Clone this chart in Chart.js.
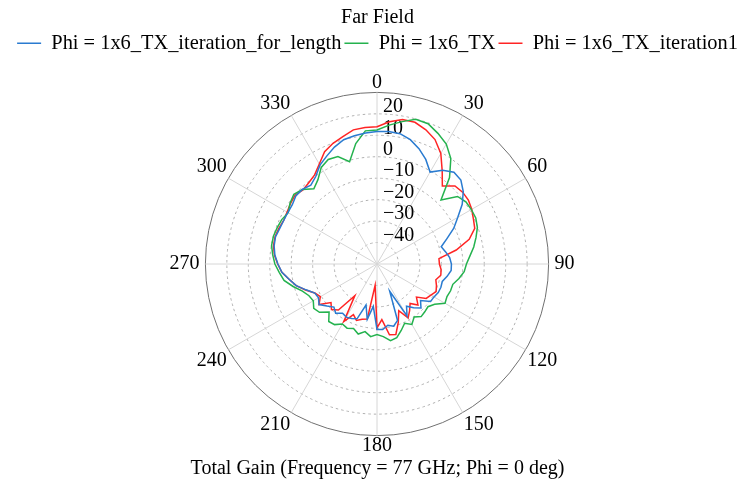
<!DOCTYPE html>
<html>
<head>
<meta charset="utf-8">
<title>Far Field</title>
<script src="https://cdn.jsdelivr.net/npm/chart.js@4.4.1/dist/chart.umd.min.js"></script>
<style>
  html, body { margin: 0; padding: 0; background: #fff; }
  #wrap { width: 755px; height: 488px; position: relative; }
</style>
</head>
<body>
<div id="wrap"><canvas id="farField"></canvas></div>
<script>
// theta (deg), every 5 degrees, clockwise from the top
const ANGLES = [
  0, 5, 10, 15, 20, 25, 30, 35, 40, 45, 50, 55,
  60, 65, 70, 75, 80, 85, 90, 95, 100, 105, 110, 115,
  120, 125, 130, 135, 140, 145, 150, 155, 160, 165, 170, 175,
  180, 185, 190, 195, 200, 205, 210, 215, 220, 225, 230, 235,
  240, 245, 250, 255, 260, 265, 270, 275, 280, 285, 290, 295,
  300, 305, 310, 315, 320, 325, 330, 335, 340, 345, 350, 355
];

// total gain in dB
const GAIN_ITER_LENGTH = [
  11.8, 12.0, 11.7, 10.0, 7.2, 3.8, -0.5, 3.4, 5.8, 5.3, 2.5, -1.5,
  -6.5, -10.5, -15.3, -19.0, -17.5, -16.0, -15.3, -15.3, -16.8, -18.5, -18.3, -18.5,
  -19.3, -19.5, -23.5, -21.0, -23.4, -26.0, -22.0, -36.0, -22.0, -20.0, -21.0, -19.3,
  -19.5, -30.2, -23.8, -30.2, -22.8, -22.0, -21.4, -22.0, -20.0, -21.6, -19.5, -17.0,
  -18.5, -18.0, -14.8, -11.0, -8.5, -5.5, -3.8, -2.2, -1.3, -1.0, -1.7, -2.0,
  -2.0, -1.8, -0.6, -0.8, -2.0, -0.2, 3.2, 5.5, 8.0, 10.0, 10.7, 11.3
];

const GAIN_TX = [
  12.5, 15.0, 17.4, 19.8, 19.6, 17.2, 14.6, 10.0, 2.6, -7.8, -1.0, 0.6,
  0.8, 0.8, -0.2, -2.2, -4.2, -6.5, -8.3, -9.2, -11.2, -13.4, -13.5, -14.0,
  -13.4, -17.2, -19.0, -18.5, -18.0, -19.8, -17.5, -19.5, -17.0, -14.4, -13.7, -16.0,
  -17.1, -16.0, -18.0, -16.2, -18.0, -17.0, -17.7, -15.5, -15.0, -18.4, -15.0, -14.0,
  -15.7, -15.0, -13.0, -9.5, -6.0, -4.3, -2.4, -1.2, -0.1, 0.0, -0.5, -1.0,
  -2.2, -0.5, 0.6, -0.8, -4.2, -2.0, 2.0, 3.8, 3.3, -0.6, 7.0, 12.3
];

const GAIN_ITER1 = [
  14.0, 16.6, 18.4, 18.4, 16.6, 14.0, 9.5, 3.0, -2.6, 1.4, 2.1, 2.0,
  1.0, -0.4, -1.5, -5.5, -12.5, -21.0, -20.9, -20.0, -19.8, -21.6, -20.5, -19.6,
  -21.0, -22.0, -26.0, -23.0, -26.0, -23.5, -21.0, -26.0, -21.0, -16.0, -16.5, -24.0,
  -20.2, -40.0, -24.0, -23.3, -22.0, -24.0, -19.0, -32.0, -22.0, -20.0, -22.0, -17.0,
  -19.5, -18.0, -14.5, -11.0, -8.5, -5.5, -3.7, -2.0, -1.0, -0.8, -1.3, -2.0,
  -1.6, -0.8, -0.1, -1.2, -0.5, 0.7, 3.8, 7.8, 9.9, 11.5, 13.5, 13.9
];

const SERIES_NAMES = [
  'Phi = 1x6_TX_iteration_for_length',
  'Phi = 1x6_TX',
  'Phi = 1x6_TX_iteration1'
];
const SERIES_COLORS = ['#2a7bd0', '#24b24e', '#ff2424'];

const RADIAL_TICKS = [-40, -30, -20, -10, 0, 10, 20];
const R_MIN = -50, R_MAX = 30;

const SERIF = "'Liberation Serif', 'Times New Roman', serif";
Chart.defaults.font.family = SERIF;
Chart.defaults.color = '#000';

// radial value labels sit just right of the 0 deg spoke, above each ring
const tickLabels = {
  id: 'tickLabels',
  beforeDatasetsDraw(chart) {
    const r = chart.scales.r, ctx = chart.ctx;
    ctx.save();
    ctx.font = '20px ' + SERIF;
    ctx.fillStyle = '#000';
    ctx.textAlign = 'left';
    ctx.textBaseline = 'middle';
    RADIAL_TICKS.forEach(v => {
      const d = r.getDistanceFromCenterForValue(v);
      const txt = v < 0 ? '\u2212' + Math.abs(v) : String(v);
      ctx.fillText(txt, r.xCenter + 6, r.yCenter - d - 7);
    });
    ctx.restore();
  }
};

const seriesData = [GAIN_ITER_LENGTH, GAIN_TX, GAIN_ITER1];

new Chart(document.getElementById('farField'), {
  type: 'radar',
  data: {
    labels: ANGLES,
    datasets: seriesData.map((d, i) => ({
      label: SERIES_NAMES[i],
      data: d,
      borderColor: SERIES_COLORS[i],
      backgroundColor: SERIES_COLORS[i],
      borderWidth: 1.5,
      pointRadius: 0, pointHoverRadius: 0, pointHitRadius: 0,
      fill: false, tension: 0
    }))
  },
  plugins: [tickLabels],
  options: {
    responsive: true, maintainAspectRatio: false, animation: false,
    events: [],
    layout: { padding: 0 },
    scales: {
      r: {
        min: R_MIN, max: R_MAX,
        startAngle: 0,
        ticks: { display: false, stepSize: 10 },
        grid: {
          circular: true,
          color: c => c.index === 8 ? '#707070' : '#b0b0b0',
          lineWidth: 1
        },
        border: { dash: c => c.index === 8 ? [] : [2.5, 3] },
        angleLines: {
          color: '#d6d6d6',
          lineWidth: c => (c.index % 6 === 0 ? 1 : 0)
        },
        pointLabels: {
          callback: (lab, i) => (i % 6 === 0 ? String(lab) : ''),
          color: '#000',
          padding: c => c.index === 0 ? -5 : c.index === 36 ? 3 : (c.index === 18 || c.index === 54) ? 6 : 2,
          font: c => ({
            family: SERIF, size: 20,
            lineHeight: c.index === 0 ? 1.5 : c.index === 36 ? 0.7 : (c.index % 6 === 0 ? 1 : 0.01)
          })
        }
      }
    },
    plugins: {
      title: {
        display: true, text: 'Far Field', color: '#000',
        font: { family: SERIF, size: 20, weight: 'normal', lineHeight: 1.2 },
        padding: { top: 6, bottom: 0 }
      },
      legend: {
        display: true, position: 'top',
        labels: {
          usePointStyle: true, pointStyle: 'line', pointStyleWidth: 24,
          padding: 3, color: '#000',
          font: { family: SERIF, size: 20.4 }
        }
      },
      subtitle: {
        display: true, position: 'bottom',
        text: 'Total Gain (Frequency = 77 GHz; Phi = 0 deg)', color: '#000',
        font: { family: SERIF, size: 20, weight: 'normal', lineHeight: 1.2 },
        padding: { top: 0, bottom: 7 }
      },
      tooltip: { enabled: false }
    }
  }
});
</script>
</body>
</html>
